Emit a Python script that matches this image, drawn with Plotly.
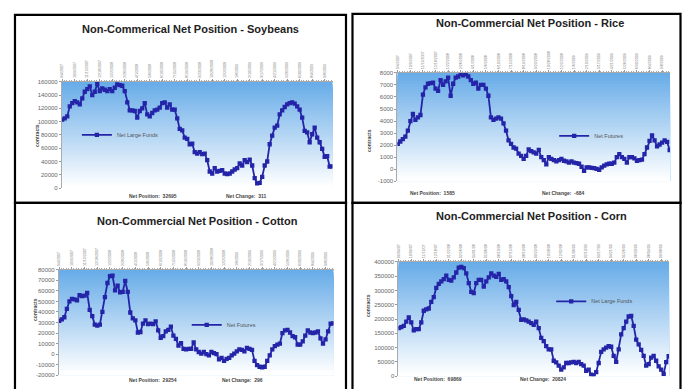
import plotly.graph_objects as go
import pandas as pd

# Weekly Commitments of Traders report dates
weeks = pd.date_range("2007-09-04", periods=109, freq="7D")

date_labels = ["9/4/2007", "10/9/2007", "11/13/2007", "12/18/2007", "1/22/2008", "2/26/2008",
               "4/1/2008", "5/6/2008", "6/10/2008", "7/15/2008", "8/19/2008", "9/23/2008",
               "10/28/2008", "12/2/2008", "1/6/2009", "2/10/2009", "3/17/2009", "4/21/2009",
               "5/26/2009", "6/30/2009", "8/4/2009", "9/8/2009"]
corn_date_labels = ["09/04/07", "10/09/07", "11/13/07", "12/18/07", "01/22/08", "02/26/08",
                    "04/01/08", "05/06/08", "06/10/08", "07/15/08", "08/19/08", "09/23/08",
                    "10/28/08", "12/02/08", "01/06/09", "02/10/09", "03/17/09", "04/21/09",
                    "05/26/09", "06/30/09", "08/04/09", "09/08/09"]

# Net non-commercial positions (contracts)
soybeans = [103000, 105000, 108000, 123000, 128000, 131000, 129000, 126000, 135000, 145000,
            149000, 153000, 140000, 145000, 157000, 146000, 150000, 148000, 146000, 149000,
            146000, 151000, 156000, 155000, 154000, 146000, 129000, 117000, 117000, 116000,
            106000, 116000, 120000, 128000, 111000, 108000, 113000, 117000, 118000, 121000,
            128000, 129000, 121000, 126000, 118000, 118000, 105000, 89000, 87000, 76000,
            74000, 66000, 67000, 54000, 52000, 54000, 51000, 52000, 42000, 25000,
            22000, 30000, 25000, 26000, 27000, 22000, 21000, 22000, 25000, 28000,
            30000, 37000, 34000, 42000, 39000, 43000, 34000, 15000, 7000, 8000,
            17000, 34000, 40000, 66000, 79000, 91000, 94000, 111000, 117000, 122000,
            126000, 128000, 129000, 127000, 123000, 118000, 106000, 86000, 84000, 69000,
            81000, 91000, 76000, 69000, 59000, 47000, 48000, 32384, 32695]

rice = [2100, 2300, 2500, 2700, 3200, 4000, 4600, 4100, 4300, 4500,
        6200, 6800, 7100, 7150, 7200, 6700, 6500, 7400, 7000,
        7300, 7600, 6100, 7100, 7600, 7700, 7900, 7800, 7900, 7700,
        7400, 7100, 7200, 6700, 7000, 7000, 6700, 6100, 4300, 4100,
        4200, 4300, 4200, 3800, 3200, 2400, 2100, 1800, 1700,
        1300, 1100, 850, 1100, 1650, 1500, 1400, 1300, 1600, 1000,
        750, 400, 1000, 850, 750, 650, 750, 850, 700,
        650, 550, 650, 550, 500, 450, 200, -150, 150, 150,
        100, 80, 30, -50, 150, 300, 400, 450, 450, 550,
        1000, 1250, 1000, 850, 550, 1000, 1000, 900, 700,
        750, 800, 1250, 1800, 2350, 2800, 2400, 1900, 2050, 2200,
        2400, 2269, 1585]

cotton = [31500, 33000, 35000, 43000, 50000, 52500, 52000, 51000, 56000, 55000,
          55500, 58000, 42000, 36000, 28000, 27000, 28000, 40000, 54000, 67500,
          74000, 74500, 60500, 65000, 58500, 59000, 69500, 59000, 39500, 34000,
          32000, 20500, 21000, 29000, 32000, 28500, 29000, 28500, 31000, 22500,
          15500, 17000, 21500, 23000, 26000, 17500, 14500, 8000, 10500, 5000,
          4500, 5000, 5000, 11000, 4500, 2000, 500, 2000, 0,
          -1200, 2000, 1000, 0, -5000, -3500, -6500, -4500, -3500,
          -1200, 500, 2500, 4500, 4000, 2500, 6000, 5000, 4000, -6500,
          -10500, -12000, -12500, -12000, -6500, -1200, 4500, 7500, 9000, 10000,
          20000, 22500, 23000, 20500, 17000, 16000, 9000, 9000, 12000,
          17500, 22500, 20500, 20000, 20500, 21500, 15000, 10000, 14000, 21500,
          28958, 29254]

corn = [168000, 172000, 176000, 191000, 206000, 188000, 160000, 165000, 165000, 188000,
        229000, 234000, 237000, 260000, 277000, 309000, 323000, 332000, 340000,
        352000, 337000, 335000, 346000, 363000, 380000, 383000, 378000, 360000, 326000,
        295000, 291000, 326000, 337000, 337000, 314000, 332000, 346000, 360000, 352000,
        348000, 358000, 337000, 340000, 332000, 312000, 280000, 249000, 260000, 232000,
        197000, 199000, 195000, 191000, 186000, 180000, 191000, 168000, 134000, 123000,
        105000, 94000, 94000, 54000, 48000, 37000, 23000, 31000, 46000, 46000,
        48000, 50000, 46000, 50000, 42000, 37000, 19000, 23000, 5000, 3000,
        14000, 46000, 85000, 94000, 100000, 105000, 103000, 71000, 50000, 94000,
        146000, 168000, 191000, 209000, 211000, 176000, 128000, 111000, 92000, 71000,
        37000, 42000, 65000, 71000, 54000, 34000, 23000, 8000, 49045, 69869]

soy_ticks = list(range(0, 160001, 20000))
rice_ticks = list(range(-1000, 8001, 1000))
cotton_ticks = list(range(-20000, 80001, 10000))
corn_ticks = list(range(0, 400001, 50000))

W, H = 686, 389
FONT = "Liberation Sans, Arial, sans-serif"
LINE = "#2424a8"


def fx(p):
    return p / W


def fy(p):
    return 1 - p / H


panels = [
    dict(title="Non-Commerical Net Position - Soybeans", series=soybeans, name="Net Large Funds",
         ticks=soy_ticks, labels=date_labels, px=(61, 332), py=(80, 188), title_xy=(190, 26),
         ytitle_x=31, legend_xy=(76, 134), pos_xy=(126, 196), chg_xy=(246, 196), change=311),
    dict(title="Non-Commercial Net Position - Rice", series=rice, name="Net Futures",
         ticks=rice_ticks, labels=date_labels, px=(397, 670), py=(71, 181), title_xy=(530, 20),
         ytitle_x=368, legend_xy=(554, 135), pos_xy=(432, 193), chg_xy=(586, 193), change=-684),
    dict(title="Non-Commercial Net Position - Cotton", series=cotton, name="Net Futures",
         ticks=cotton_ticks, labels=date_labels, px=(58, 333), py=(271, 378), title_xy=(197, 221),
         ytitle_x=29, legend_xy=(186, 327), pos_xy=(126, 388), chg_xy=(242, 388), change=296),
    dict(title="Non-Commercial Net Position - Corn", series=corn, name="Net Large Funds",
         ticks=corn_ticks, labels=corn_date_labels, px=(398, 669), py=(263, 379), title_xy=(531, 216),
         ytitle_x=367, legend_xy=(551, 303), pos_xy=(464, 387), chg_xy=(568, 387), change=20824),
]

fig = go.Figure()
layout = dict(width=W, height=H, margin=dict(l=0, r=0, t=0, b=0), paper_bgcolor="white",
              plot_bgcolor="rgba(0,0,0,0)", font=dict(family=FONT, color="#444"),
              showlegend=True)
shapes, annotations = [], []

top_rgb = (104, 172, 232)
bands = 40

for i, p in enumerate(panels, start=1):
    sfx = "" if i == 1 else str(i)
    xa, ya = "x" + sfx, "y" + sfx
    leg = "legend" + sfx

    fig.add_trace(go.Scatter(
        x=weeks, y=p["series"], mode="lines+markers", name=p["name"],
        xaxis=xa, yaxis=ya, legend=leg,
        line=dict(color=LINE, width=1.8),
        marker=dict(symbol="square", size=4.3, color=LINE),
    ))

    layout["xaxis" + sfx] = dict(
        domain=[fx(p["px"][0]), fx(p["px"][1])], anchor=ya, side="top", type="date",
        range=[weeks[0] - pd.Timedelta(days=1), weeks[-1] + pd.Timedelta(days=1)],
        tickvals=list(weeks[::5][:len(p["labels"])]), ticktext=p["labels"], tickangle=-90,
        tickfont=dict(size=3.6, color="#777"), ticks="outside", ticklen=2, tickcolor="#999",
        minor=dict(dtick=7 * 86400000, ticks="outside", ticklen=1, tickcolor="#aaa"),
        showline=True, linecolor="#aaa", linewidth=1, showgrid=False, zeroline=False,
    )
    layout["yaxis" + sfx] = dict(
        domain=[fy(p["py"][1]), fy(p["py"][0])], anchor=xa,
        range=[p["ticks"][0], p["ticks"][-1]], tickvals=p["ticks"],
        ticktext=[str(t) for t in p["ticks"]], tickfont=dict(size=6, color="#666"),
        ticks="outside", ticklen=2, tickcolor="#999", showline=True, linecolor="#aaa",
        linewidth=1, showgrid=False, zeroline=False,
    )
    layout[leg] = dict(
        x=fx(p["legend_xy"][0]), y=fy(p["legend_xy"][1]), xanchor="left", yanchor="middle",
        bgcolor="rgba(0,0,0,0)", font=dict(size=5.5, color="#555", family=FONT),
        itemwidth=30, borderwidth=0,
    )

    # blue-to-white gradient fill of the plotting area; each band reaches down to the
    # bottom so the next, lighter band overlaps it without seams
    for b in range(bands):
        t = b / (bands - 1)
        r, g, bl = (int(round(c + (255 - c) * t)) for c in top_rgb)
        shapes.append(dict(
            type="rect", xref=xa + " domain", yref=ya + " domain", x0=0, x1=1,
            y0=0, y1=1 - b / bands,
            fillcolor=f"rgb({r},{g},{bl})", line=dict(width=0), layer="below",
        ))

    annotations.append(dict(
        text="<b>" + p["title"] + "</b>", x=fx(p["title_xy"][0]), y=fy(p["title_xy"][1]),
        xref="paper", yref="paper", showarrow=False, xanchor="center", yanchor="middle",
        font=dict(size=11, color="#222", family=FONT),
    ))
    annotations.append(dict(
        text="<b>contracts</b>", x=fx(p["ytitle_x"]), y=fy((p["py"][0] + p["py"][1]) / 2),
        xref="paper", yref="paper", showarrow=False, textangle=-90,
        font=dict(size=5, color="#444", family=FONT),
    ))
    annotations.append(dict(
        text=f"<b>Net Position:  {p['series'][-1]}</b>", x=fx(p["pos_xy"][0]), y=fy(p["pos_xy"][1]),
        xref="paper", yref="paper", showarrow=False, font=dict(size=5, color="#444", family=FONT),
    ))
    annotations.append(dict(
        text=f"<b>Net Change:  {p['change']}</b>", x=fx(p["chg_xy"][0]), y=fy(p["chg_xy"][1]),
        xref="paper", yref="paper", showarrow=False, font=dict(size=5, color="#444", family=FONT),
    ))

# black frames around the four chart panels
for x0, x1, y0, y1 in [(14, 345.5, 12, 203), (352, 680.5, 11, 203),
                       (14, 345.5, 203, 400), (352, 680.5, 203, 400)]:
    shapes.append(dict(type="rect", xref="paper", yref="paper",
                       x0=fx(x0), x1=fx(x1), y0=fy(y1), y1=fy(y0),
                       line=dict(color="black", width=2.2), fillcolor="rgba(0,0,0,0)"))

layout["shapes"] = shapes
layout["annotations"] = annotations
fig.update_layout(**layout)
fig.write_html("out.html")
